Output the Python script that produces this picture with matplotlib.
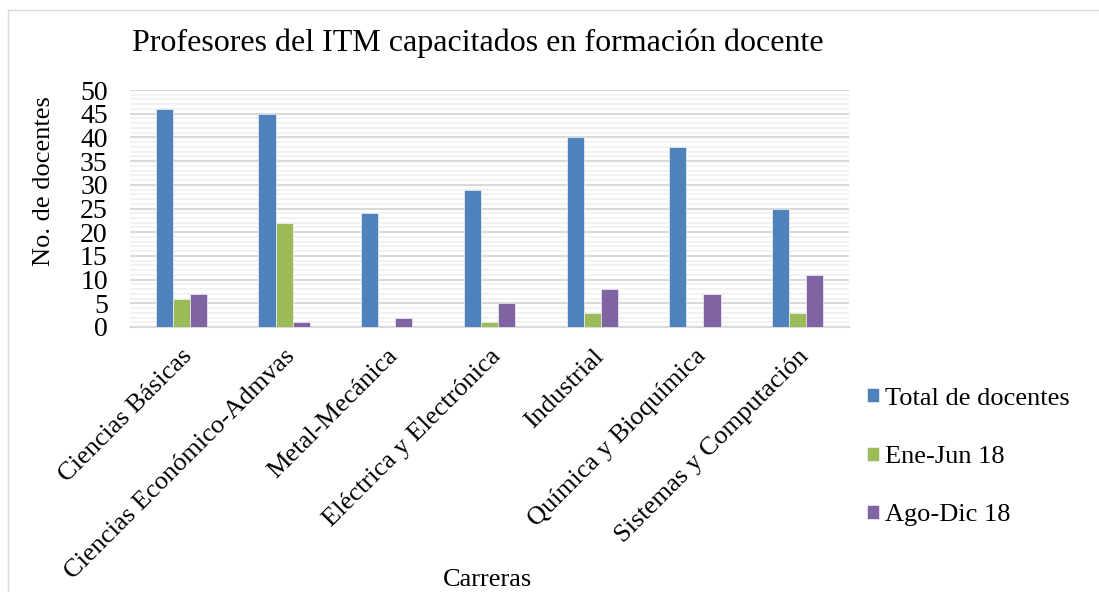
import matplotlib
matplotlib.use("Agg")
import matplotlib.pyplot as plt
import numpy as np
from matplotlib.patches import Rectangle

categories = ["Ciencias Básicas", "Ciencias Económico-Admvas", "Metal-Mecánica",
              "Eléctrica y Electrónica", "Industrial", "Química y Bioquímica",
              "Sistemas y Computación"]
total = [46, 45, 24, 29, 40, 38, 25]
ene_jun = [6, 22, 0, 1, 3, 0, 3]
ago_dic = [7, 1, 2, 5, 8, 7, 11]
series_names = ["Total de docentes", "Ene-Jun 18", "Ago-Dic 18"]
colors = ["#4F81BD", "#9BBB59", "#8064A2"]

plt.rcParams['font.family'] = ['Liberation Serif', 'DejaVu Serif']

fig = plt.figure(figsize=(10.99, 5.92), dpi=100)
ax = fig.add_axes([130/1099, 1-327/592, (849-130)/1099, (327-90)/592])

x = np.arange(len(categories))
w = 0.166
for i, (vals, name, c) in enumerate(zip([total, ene_jun, ago_dic], series_names, colors)):
    ax.bar(x + (i-1)*w, vals, width=w, color=c, label=name, zorder=3,
           edgecolor='white', linewidth=0.4)

ax.set_xlim(-0.5, len(categories)-0.5)
ax.set_ylim(0, 50)
ax.set_yticks(np.arange(0, 51, 5))
ax.set_yticks(np.arange(0, 51, 1), minor=True)
ax.yaxis.grid(True, which='major', color='#d9d9d9', linewidth=1.5, zorder=0)
ax.yaxis.grid(True, which='minor', color='#f0f0f0', linewidth=1.2, zorder=0)
ax.tick_params(axis='y', which='both', length=0, labelsize=20, pad=16)
ax.tick_params(axis='x', length=0, labelsize=19, pad=13)
for s in ['top', 'right', 'left']:
    ax.spines[s].set_visible(False)
ax.spines['bottom'].set_color('#d9d9d9')
ax.spines['bottom'].set_linewidth(1.5)

ax.set_xticks(x)
ax.set_xticklabels(categories, rotation=45, ha='right', rotation_mode='anchor')

fig.text(44/1099, 1-181/592, "No. de docentes", fontsize=19, rotation=90,
         ha='center', va='center')
fig.text(478/1099, 1-43/592, "Profesores del ITM capacitados en formación docente",
         fontsize=23, ha='center', va='center')
fig.text(488/1099, 1-580/592, "Carreras", fontsize=19, ha='center', va='center')

leg = fig.legend(loc='center left', bbox_to_anchor=(843/1099, 1-457/592),
                 frameon=False, fontsize=19, handlelength=0.45, handleheight=0.45,
                 handletextpad=0.25, labelspacing=1.38)

fig.patches.append(Rectangle((8/1099, -0.01), 1.2, 1-10/592+0.01, transform=fig.transFigure,
                             fill=False, edgecolor='#d9d9d9', linewidth=1))

fig.savefig("out.png", dpi=100)
